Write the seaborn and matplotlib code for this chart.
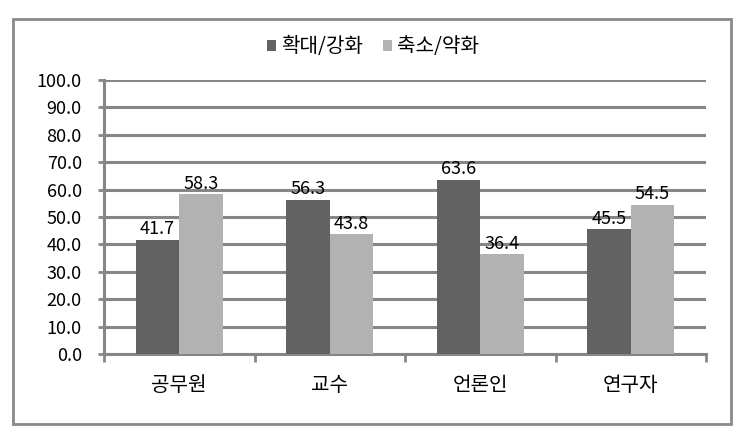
import matplotlib
matplotlib.use("Agg")
import matplotlib.pyplot as plt
import seaborn as sns
import pandas as pd
from matplotlib.patches import Rectangle

categories = ["공무원", "교수", "언론인", "연구자"]
series_names = ["확대/강화", "축소/약화"]
expand_vals = [41.7, 56.3, 63.6, 45.5]
shrink_vals = [58.3, 43.8, 36.4, 54.5]
yticks = [0, 10, 20, 30, 40, 50, 60, 70, 80, 90, 100]

df = pd.DataFrame({
    "cat": categories * 2,
    "series": [series_names[0]] * 4 + [series_names[1]] * 4,
    "val": expand_vals + shrink_vals,
})

sns.set_theme(style="white")
plt.rcParams['font.family'] = ['Noto Sans CJK KR', 'DejaVu Sans']

fig = plt.figure(figsize=(7.4, 4.36), dpi=100)
ax = fig.add_axes([104 / 740, 1 - 354 / 436, (706 - 104) / 740, (354 - 80) / 436])

palette = {series_names[0]: "#626262", series_names[1]: "#b2b2b2"}
sns.barplot(data=df, x="cat", y="val", hue="series", palette=palette, ax=ax,
            width=0.58, saturation=1, legend=True, zorder=3, linewidth=0, edgecolor="none")

ax.set_ylim(0, 100)
ax.set_yticks(yticks)
ax.set_yticklabels([f"{v:.1f}" for v in yticks], fontsize=13, color="black")
ax.set_xlim(-0.5, 3.5)
ax.yaxis.grid(True, color="#868686", linewidth=2.2, zorder=0)
ax.set_axisbelow(True)
ax.set_xlabel("")
ax.set_ylabel("")

for side in ["top", "right"]:
    ax.spines[side].set_visible(False)
for side in ["left", "bottom"]:
    ax.spines[side].set_color("#868686")
    ax.spines[side].set_linewidth(2.2)

ax.set_xticks([0, 1, 2, 3])
ax.set_xticklabels(categories, fontsize=14.5, color="black")
ax.tick_params(axis="x", length=0, pad=15)
ax.tick_params(axis="y", length=4, width=2, color="#868686", left=True, pad=12)
ax.set_xticks([-0.5, 0.5, 1.5, 2.5, 3.5], minor=True)
ax.tick_params(axis="x", which="minor", length=6, width=2, color="#868686", bottom=True, direction="out")

for cont in ax.containers:
    ax.bar_label(cont, fmt="%.1f", fontsize=13, padding=1, color="black")

leg = ax.legend(loc="upper center", bbox_to_anchor=(0.447, 1.225), ncol=2, frameon=False,
                fontsize=14.5, handlelength=0.45, handleheight=0.45, handletextpad=0.25,
                columnspacing=1.0)
for t in leg.get_texts():
    t.set_color("black")

fig.patches.append(Rectangle((13 / 740, 1 - 424 / 436), (731 - 13) / 740, (424 - 19) / 436,
                             transform=fig.transFigure, fill=False, edgecolor="#8a8a8a",
                             linewidth=2, zorder=0))

fig.savefig("out.png", dpi=100)
